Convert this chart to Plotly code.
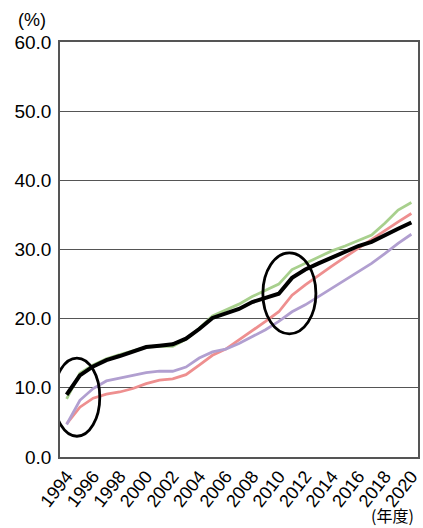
import plotly.graph_objects as go

years = [str(y) for y in range(1994, 2021)]
tick_years = [str(y) for y in range(1994, 2021, 2)]

total = [9.0, 11.8, 13.1, 14.0, 14.6, 15.2, 15.9, 16.1, 16.3, 17.1, 18.5, 20.1, 20.8, 21.4,
         22.4, 23.0, 23.6, 25.9, 27.1, 28.0, 28.8, 29.6, 30.5, 31.1, 32.1, 33.0, 33.9]
green = [8.4, 12.1, 13.3, 14.2, 14.8, 15.4, 15.9, 16.0, 16.0, 17.0, 18.6, 20.4, 21.2, 22.1,
         23.2, 24.1, 25.0, 27.1, 28.0, 28.9, 29.8, 30.5, 31.3, 32.1, 33.8, 35.7, 36.8]
red = [4.8, 7.2, 8.5, 9.1, 9.4, 9.9, 10.6, 11.1, 11.3, 11.9, 13.3, 14.7, 15.6, 16.9,
       18.3, 19.6, 21.0, 23.4, 24.9, 26.3, 27.6, 28.9, 30.2, 31.5, 32.8, 34.0, 35.2]
purple = [4.7, 8.2, 9.9, 11.0, 11.4, 11.8, 12.2, 12.4, 12.4, 13.0, 14.3, 15.2, 15.6, 16.4,
          17.4, 18.4, 19.6, 21.0, 22.0, 23.2, 24.4, 25.6, 26.8, 28.0, 29.4, 30.9, 32.2]

font = "Liberation Sans, Arial, sans-serif"

fig = go.Figure()
for vals, color, width in [(green, "#a8d08d", 2.8), (red, "#ee8f8f", 2.8),
                           (purple, "#b19fd0", 2.8), (total, "#000000", 4)]:
    fig.add_trace(go.Scatter(x=years, y=vals, mode="lines",
                             line=dict(color=color, width=width), showlegend=False))

# highlight rings
fig.add_shape(type="circle", xref="x", yref="y", x0=-0.95, x1=2.5, y0=3.0, y1=14.3,
              line=dict(color="black", width=2.8))
fig.add_shape(type="circle", xref="x", yref="y", x0=14.8, x1=18.8, y0=17.8, y1=29.5,
              line=dict(color="black", width=2.8))

fig.update_layout(
    width=423, height=528,
    margin=dict(l=60, r=1, t=42, b=71),
    plot_bgcolor="white", paper_bgcolor="white",
    font=dict(family=font, size=18, color="#000"),
    xaxis=dict(type="category", range=[-0.5, 26.5], tickmode="array",
               tickvals=tick_years, ticktext=tick_years, tickangle=-52,
               showgrid=False, showline=True, linecolor="#555", linewidth=1.5,
               mirror=True, ticks="", tickfont=dict(size=18)),
    yaxis=dict(range=[0, 60], tickvals=[0, 10, 20, 30, 40, 50, 60],
               ticktext=["0.0", "10.0", "20.0", "30.0", "40.0", "50.0", "60.0"],
               showgrid=True, gridcolor="#555", gridwidth=1,
               showline=True, linecolor="#555", linewidth=1.5, mirror=True,
               ticks="", ticklabelstandoff=3, zeroline=False, tickfont=dict(size=19)),
    annotations=[
        dict(text="(%)", xref="paper", yref="paper", x=-0.077, y=1.053,
             xanchor="center", yanchor="middle", showarrow=False, font=dict(size=18)),
        dict(text="(年度)", xref="paper", yref="paper", x=0.995, y=-0.14,
             xanchor="right", yanchor="middle", showarrow=False,
             font=dict(size=16, family="Noto Sans CJK JP")),
    ],
)

fig.write_html("out.html")
